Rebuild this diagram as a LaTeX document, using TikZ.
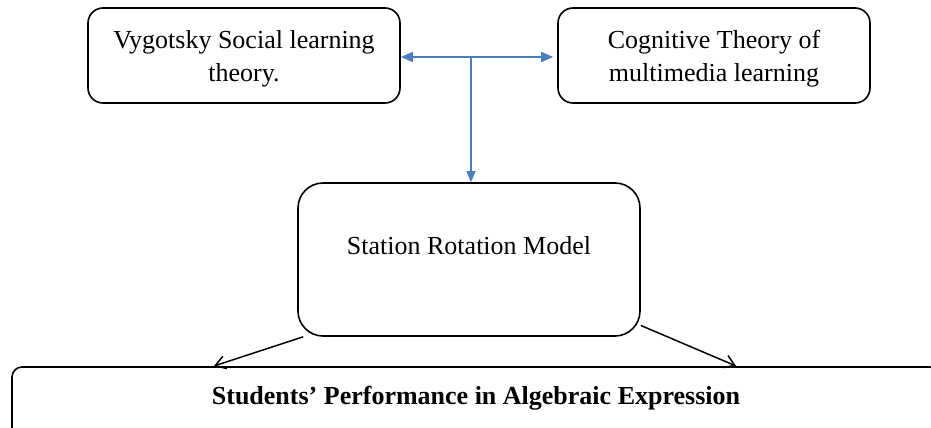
\documentclass[tikz,border=0pt]{standalone}
\usepackage{fontspec}
\setmainfont{Liberation Serif}
\usetikzlibrary{arrows.meta}
\definecolor{linkblue}{RGB}{74,126,190}
\newcommand{\topstrut}{\rule{0pt}{24pt}}
\begin{document}
\begin{tikzpicture}[x=1pt,y=-1pt,
  theorybox/.style={draw=black,line width=1.6pt,rounded corners=15pt,
    minimum width=312pt,minimum height=95pt,inner sep=0pt,align=center,
    font=\fontsize{26}{33}\selectfont},
  modelbox/.style={draw=black,line width=1.6pt,rounded corners=25pt,
    minimum width=342pt,minimum height=153pt,inner sep=0pt,
    font=\fontsize{26}{29}\selectfont,text height=18pt,text depth=28pt},
  outcomebox/.style={draw=black,line width=1.6pt,rounded corners=10pt,
    minimum width=928pt,minimum height=73pt,inner sep=0pt,
    font=\fontsize{26}{29}\selectfont\bfseries,text height=18pt,text depth=17pt},
  bluelink/.style={draw=linkblue,line width=1.7pt},
  bluedown/.style={draw=linkblue,line width=1.2pt,-{Triangle[length=11pt,width=9pt]}},
  blacklink/.style={draw=black,line width=1.5pt,-{Straight Barb[length=10pt,width=13pt]}}
]
\clip (0,0) rectangle (931,428);
\fill[white] (0,0) rectangle (931,428);
\node[theorybox] (vst) at (244,55.5) {\topstrut Vygotsky Social learning\\theory.};
\node[theorybox] (ctm) at (714,55.5) {\topstrut Cognitive Theory of\\multimedia learning};
\node[modelbox] (srm) at (469,259.5) {Station Rotation Model};
\node[outcomebox] (spe) at (476,403.5) {Students’ Performance in Algebraic Expression};
\coordinate (j) at (471,57);
\coordinate (pl) at (214,366);
\coordinate (pr) at (736,366);
\draw[bluelink,{Triangle[length=12pt,width=10pt]}-{Triangle[length=12pt,width=10pt]},shorten >=4pt]
  (j -| vst.east) -- (j -| ctm.west);
\draw[bluedown] (j) -- (j |- srm.north);
\draw[blacklink] (srm.205) -- (pl);
\draw[blacklink] (srm.-21) -- (pr);
\end{tikzpicture}
\end{document}
